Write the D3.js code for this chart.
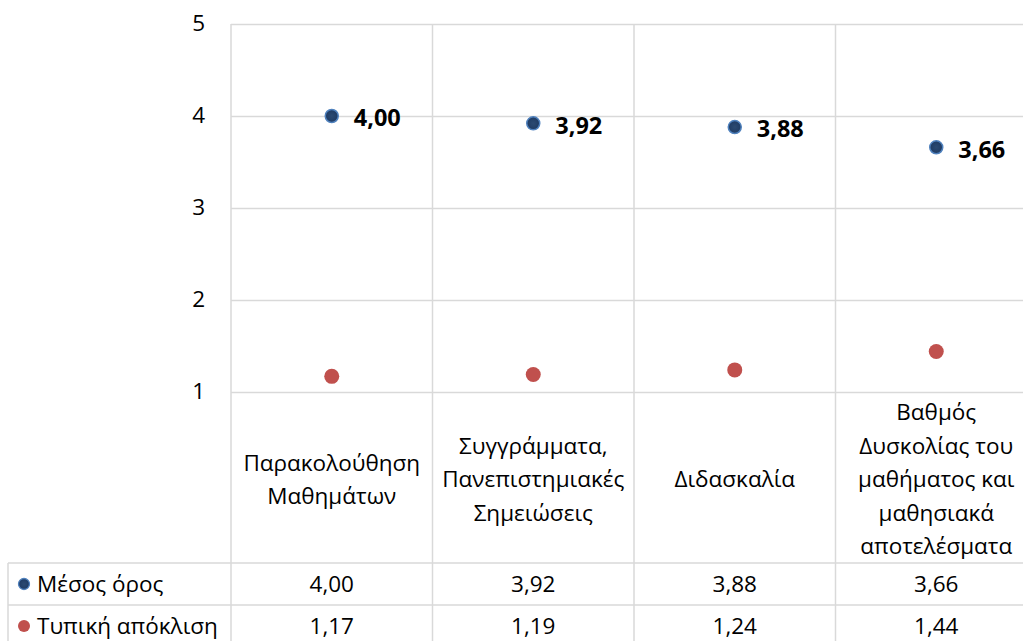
<!DOCTYPE html>
<html>
<head>
<meta charset="utf-8">
<script src="https://cdn.jsdelivr.net/npm/d3@7"></script>
<style>
  body { margin: 0; background: #fff; }
  svg { display: block; font-family: "Open Sans", "Noto Sans", sans-serif; }
</style>
</head>
<body>
<svg id="chart"></svg>
<script>
// chart data
var categories = ["Παρακολούθηση Μαθημάτων", "Συγγράμματα, Πανεπιστημιακές Σημειώσεις", "Διδασκαλία", "Βαθμός Δυσκολίας του μαθήματος και μαθησιακά αποτελέσματα"];
var categoryLines = [
  ["Παρακολούθηση", "Μαθημάτων"],
  ["Συγγράμματα,", "Πανεπιστημιακές", "Σημειώσεις"],
  ["Διδασκαλία"],
  ["Βαθμός", "Δυσκολίας του", "μαθήματος και", "μαθησιακά", "αποτελέσματα"]
];
var meanValues = [4.00, 3.92, 3.88, 3.66];
var sdValues = [1.17, 1.19, 1.24, 1.44];
var seriesNames = ["Μέσος όρος", "Τυπική απόκλιση"];
var yTicks = [1, 2, 3, 4, 5];

function drawGraphic() {
  var width = 1023, height = 641;
  var margin = { top: 24, left: 231, right: -14 };
  var plotBottom = 392, labelBottom = 563, rowH = 42;
  var gridColor = "#d9d9d9";
  var fs = 22.5;
  var fmt = function(v) { return d3.format(".2f")(v).replace(".", ","); };

  var svg = d3.select("#chart").attr("width", width).attr("height", height);

  var defs = svg.append("defs");
  var grad = defs.append("radialGradient").attr("id", "blueDot");
  grad.append("stop").attr("offset", "0%").attr("stop-color", "#2b4a72");
  grad.append("stop").attr("offset", "100%").attr("stop-color", "#1f3b63");

  var x = d3.scaleBand()
    .domain(categories)
    .range([margin.left, width - margin.right]);

  var y = d3.scaleLinear()
    .domain([1, 5])
    .range([plotBottom, margin.top]);

  // horizontal gridlines + y labels
  var yAxis = g => g
    .attr("transform", `translate(${margin.left},0)`)
    .call(d3.axisLeft(y).tickValues(yTicks).tickSize(-(width - margin.right - margin.left)).tickFormat(d3.format("d")))
    .call(g => g.select(".domain").remove())
    .call(g => g.selectAll(".tick line").attr("stroke", gridColor).attr("stroke-width", 1.5))
    .call(g => g.selectAll(".tick text")
      .attr("x", -26)
      .attr("dy", "0.3em")
      .attr("fill", "#000")
      .style("font-size", fs + "px")
      .style("font-family", "'Open Sans', sans-serif"));

  svg.append("g").call(yAxis);

  // vertical lines (plot + table)
  var bounds = categories.map(c => x(c)).concat([x.range()[1]]);
  svg.append("g")
    .attr("stroke", gridColor)
    .attr("stroke-width", 1.5)
    .selectAll("line")
    .data(bounds)
    .enter().append("line")
    .attr("x1", d => d).attr("x2", d => d)
    .attr("y1", margin.top).attr("y2", height + 10);

  // table lines
  var table = svg.append("g").attr("stroke", gridColor).attr("stroke-width", 1.5);
  table.append("line").attr("x1", 8).attr("x2", width + 20).attr("y1", labelBottom).attr("y2", labelBottom);
  table.append("line").attr("x1", 8).attr("x2", width + 20).attr("y1", labelBottom + rowH).attr("y2", labelBottom + rowH);
  table.append("line").attr("x1", 8).attr("x2", 8).attr("y1", labelBottom).attr("y2", height + 10);

  // category labels
  var lineH = 33.5;
  var catG = svg.append("g")
    .selectAll("text")
    .data(categories)
    .enter().append("text")
    .attr("text-anchor", "middle")
    .attr("font-size", fs)
    .attr("fill", "#000");
  catG.each(function(d, i) {
    var lines = categoryLines[i];
    var cy = (plotBottom + labelBottom) / 2 + 2;
    var y0 = cy - (lines.length - 1) * lineH / 2;
    d3.select(this).selectAll("tspan")
      .data(lines)
      .enter().append("tspan")
      .attr("x", x(d) + x.bandwidth() / 2)
      .attr("y", (l, j) => y0 + j * lineH)
      .attr("dy", "0.35em")
      .text(l => l);
  });

  // points
  var cx = d => x(d) + x.bandwidth() / 2;

  svg.append("g")
    .selectAll("circle")
    .data(categories)
    .enter().append("circle")
    .attr("cx", cx)
    .attr("cy", (d, i) => y(sdValues[i]))
    .attr("r", 7.5)
    .attr("fill", "#c0504d");

  svg.append("g")
    .selectAll("circle")
    .data(categories)
    .enter().append("circle")
    .attr("cx", cx)
    .attr("cy", (d, i) => y(meanValues[i]))
    .attr("r", 6.5)
    .attr("fill", "url(#blueDot)")
    .attr("stroke", "#4f81bd")
    .attr("stroke-width", 1.5);

  // data labels for mean
  svg.append("g")
    .selectAll("text")
    .data(categories)
    .enter().append("text")
    .attr("x", d => cx(d) + 22)
    .attr("y", (d, i) => y(meanValues[i]) + 2)
    .attr("dy", "0.35em")
    .attr("font-size", 23.5)
    .attr("font-weight", "bold")
    .attr("fill", "#000")
    .text((d, i) => fmt(meanValues[i]));

  // table rows
  var rows = [meanValues, sdValues];
  var rowColors = ["url(#blueDot)", "#c0504d"];
  rows.forEach(function(vals, r) {
    var ry = labelBottom + rowH * r + rowH / 2;
    svg.append("circle")
      .attr("cx", 24).attr("cy", ry)
      .attr("r", r == 0 ? 5.5 : 6)
      .attr("fill", rowColors[r])
      .attr("stroke", r == 0 ? "#4f81bd" : "none")
      .attr("stroke-width", 1.3);
    svg.append("text")
      .attr("x", 37).attr("y", ry)
      .attr("dy", "0.35em")
      .attr("font-size", fs)
      .attr("fill", "#000")
      .text(seriesNames[r]);
    svg.append("g")
      .selectAll("text")
      .data(categories)
      .enter().append("text")
      .attr("x", cx)
      .attr("y", ry)
      .attr("dy", "0.35em")
      .attr("text-anchor", "middle")
      .attr("font-size", fs)
      .attr("fill", "#000")
      .text((d, i) => fmt(vals[i]));
  });
}

drawGraphic();
</script>
</body>
</html>
